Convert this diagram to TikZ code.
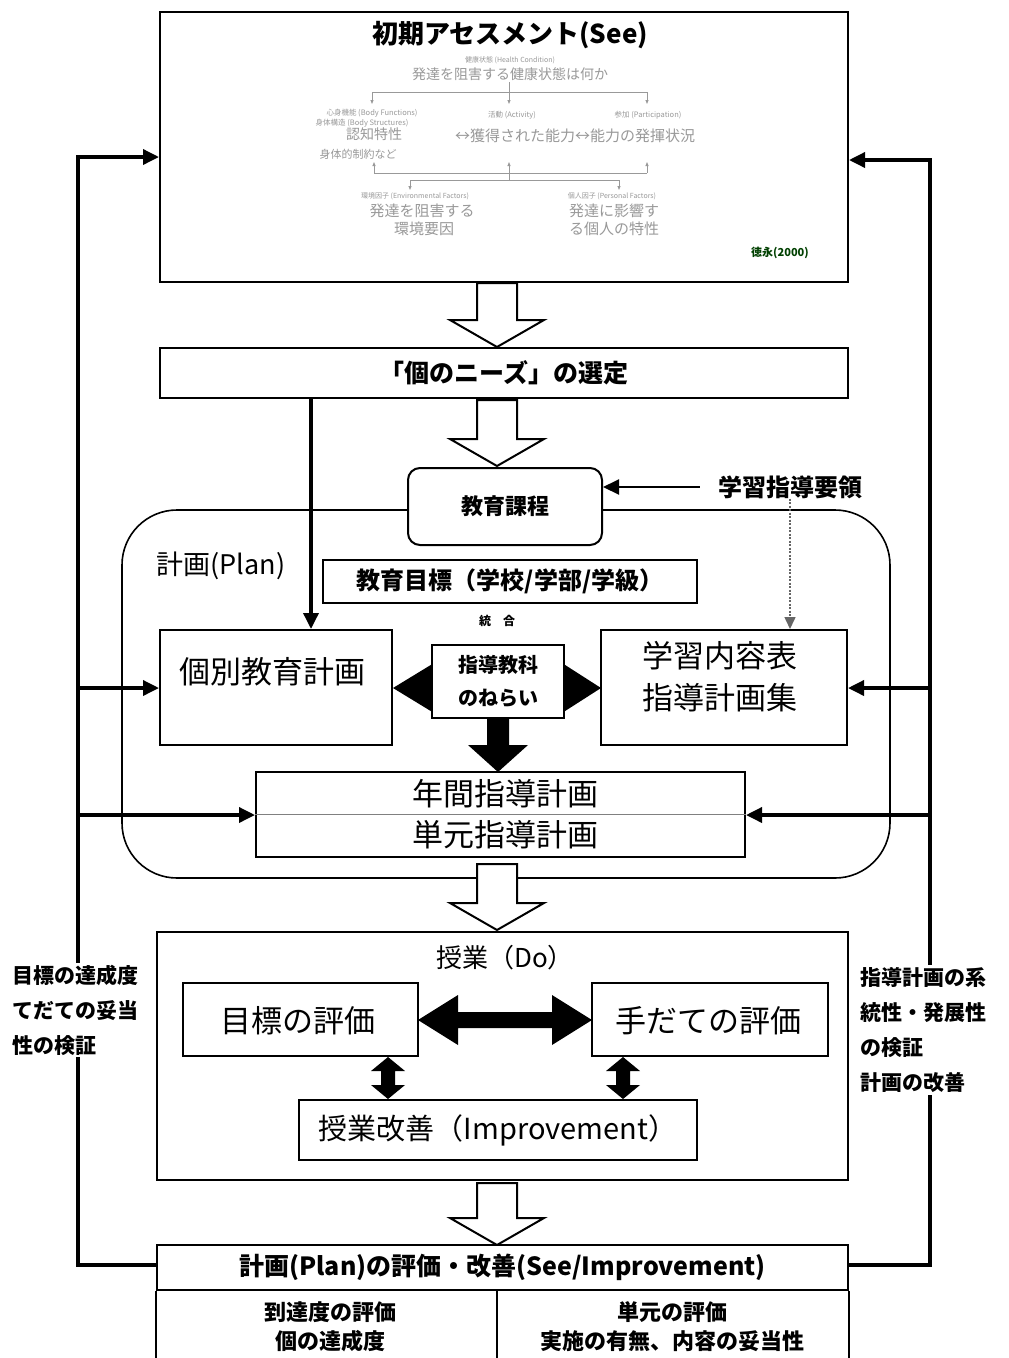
\documentclass[tikz,border=0pt]{standalone}
\usepackage{fontspec}
\setmainfont{Noto Sans CJK JP}
\usetikzlibrary{arrows.meta,calc}
\newcommand\hollowdown[3]{\draw[hollow] ({#1-20},#2) -- ({#1+20},#2) -- ({#1+20},{#3-27}) -- ({#1+47},{#3-27}) -- (#1,#3) -- ({#1-47},{#3-27}) -- ({#1-20},{#3-27}) -- cycle;}
\newcommand\vdbl[1]{\fill ({#1},1057) -- ({#1+17},1071) -- ({#1+7},1071) -- ({#1+7},1085) -- ({#1+17},1085) -- ({#1},1099) -- ({#1-17},1085) -- ({#1-7},1085) -- ({#1-7},1071) -- ({#1-17},1071) -- cycle;}
\begin{document}
\begin{tikzpicture}[x=1pt,y=-1pt,
  box/.style={draw,line width=2pt,fill=white,inner sep=0pt,align=center},
  conn/.style={line width=3.5pt,-{Triangle[length=16pt,width=15pt]}},
  hollow/.style={draw,line width=2pt,fill=white,line join=miter},
  fig/.style={text=gray!80,inner sep=0pt},
  figline/.style={draw=gray!80,line width=0.8pt},
  figarr/.style={draw=gray!80,line width=0.8pt,-{Triangle[length=4pt,width=3pt]}},
  big/.style={inner sep=0pt,font=\fontsize{31}{38}\selectfont},
  mid/.style={inner sep=0pt,font=\fontsize{24}{30}\selectfont\bfseries},
  side/.style={inner sep=2pt,fill=white,align=left,font=\fontsize{21}{35}\selectfont\bfseries}]
\useasboundingbox[fill=white] (0,0) rectangle (1009,1358);

% ---------- plan region ----------
\draw[line width=1.6pt,rounded corners=55pt] (122,510) rectangle (890,878);

% ---------- top assessment box ----------
\node[box,minimum width=688pt,minimum height=270pt] (see) at (504,147) {};
\node[inner sep=0pt,font=\fontsize{26}{30}\selectfont\bfseries] (seeT) at (510,35) {初期アセスメント(See)};
\node[fig,font=\fontsize{7}{8}\selectfont] (f1) at (510,60) {健康状態 (Health Condition)};
\node[fig,font=\fontsize{14}{16}\selectfont] (f2) at (510,74) {発達を阻害する健康状態は何か};
\draw[figline] (509,82) -- (509,92);
\draw[figline] (372,92) -- (647,92);
\draw[figarr] (372,92) -- (372,104);
\draw[figarr] (509,92) -- (509,104);
\draw[figarr] (647,92) -- (647,104);
\node[fig,font=\fontsize{7.5}{9}\selectfont] (f3) at (372,113) {心身機能 (Body Functions)};
\node[fig,font=\fontsize{7.5}{9}\selectfont] (f4) at (362,123) {身体構造 (Body Structures)};
\node[fig,font=\fontsize{7.5}{9}\selectfont] (f5) at (512,115) {活動 (Activity)};
\node[fig,font=\fontsize{7.5}{9}\selectfont] (f6) at (648,115) {参加 (Participation)};
\node[fig,font=\fontsize{14}{16}\selectfont] (f7) at (374,134) {認知特性};
\node[fig,font=\fontsize{15}{17}\selectfont] (f8) at (575,136) {↔獲得された能力↔能力の発揮状況};
\node[fig,font=\fontsize{11}{13}\selectfont] (f9) at (358,154) {身体的制約など};
\draw[figarr] (374,173) -- (374,162);
\draw[figarr] (509,173) -- (509,162);
\draw[figarr] (647,173) -- (647,162);
\draw[figline] (374,173) -- (647,173);
\draw[figline] (509,173) -- (509,180);
\draw[figline] (410,180) -- (619,180);
\draw[figarr] (410,180) -- (410,190);
\draw[figarr] (619,180) -- (619,190);
\node[fig,font=\fontsize{7}{8}\selectfont] (f10) at (415,196) {環境因子 (Environmental Factors)};
\node[fig,font=\fontsize{7}{8}\selectfont] (f11) at (612,196) {個人因子 (Personal Factors)};
\node[fig,font=\fontsize{15}{17}\selectfont] (f12) at (422,211) {発達を阻害する};
\node[fig,font=\fontsize{15}{17}\selectfont] (f13) at (424,229) {環境要因};
\node[fig,font=\fontsize{15}{17}\selectfont] (f14) at (614,211) {発達に影響す};
\node[fig,font=\fontsize{15}{17}\selectfont] (f15) at (614,229) {る個人の特性};
\node[inner sep=0pt,text=black!75!green,font=\fontsize{11}{13}\selectfont\bfseries] (fsrc) at (780,253) {徳永(2000)};

% ---------- needs ----------
\node[box,minimum width=688pt,minimum height=50pt,font=\fontsize{25}{30}\selectfont\bfseries] (needs) at (504,373) {「個のニーズ」の選定};
\hollowdown{497}{283}{347}
\hollowdown{497}{400}{466}

% ---------- curriculum ----------
\node[box,rounded corners=12pt,minimum width=194pt,minimum height=77pt,font=\fontsize{22}{28}\selectfont\bfseries] (kyoiku) at (505,506.5) {教育課程};
\node[mid] (yoryo) at (790,487) {学習指導要領};
\draw[conn,line width=2pt] (yoryo.west) ++(-18,0) -- (kyoiku.east |- yoryo.west);
\node[inner sep=0pt,font=\fontsize{27}{32}\selectfont] (planT) at (221,566) {計画(Plan)};
\node[box,line width=2.2pt,minimum width=374pt,minimum height=43pt,font=\fontsize{24}{28}\selectfont\bfseries] (mokuhyo) at (510,581.5) {教育目標（学校/学部/学級）};
\node[inner sep=0pt,font=\fontsize{12}{14}\selectfont\bfseries] (togo) at (497,621) {統　合};

% ---------- plan boxes ----------
\node[box,minimum width=232pt,minimum height=115pt] (kobetsu) at (276,687.5) {};
\node[big] (kobetsuT) at (272,672) {個別教育計画};
\node[box,minimum width=246pt,minimum height=115pt] (gakushu) at (724,687.5) {};
\node[big,align=left,font=\fontsize{31}{42}\selectfont] (gakushuT) at (720,677) {学習内容表\\指導計画集};
\draw[gray!80!black,line width=1.5pt,dash pattern=on 2pt off 1.5pt,-{Triangle[length=12pt,width=11pt]}] (yoryo.south) -- (yoryo.south |- gakushu.north);
\draw[conn] ($(needs.south west)+(152,0)$) -- ($(kobetsu.north west)+(152,0)$);

% black block arrows around the aims box
\fill (393,688) -- (434,663) -- (434,713) -- cycle;
\fill (601,688) -- (562,663) -- (562,713) -- cycle;
\fill (487,716) -- (509,716) -- (509,745) -- (528,745) -- (498,772) -- (468,745) -- (487,745) -- cycle;
\node[box,minimum width=132pt,minimum height=73pt,font=\fontsize{20}{33}\selectfont\bfseries] (nerai) at (498,681.5) {指導教科\\のねらい};

\node[box,minimum width=489pt,minimum height=85pt] (nenkan) at (500.5,814.5) {};
\draw[gray,line width=1pt] (nenkan.west) -- (nenkan.east);
\node[big] (nenkanT) at (505,794) {年間指導計画};
\node[big] (tangenT) at (505,835) {単元指導計画};
\hollowdown{497}{864}{930}

% ---------- Do ----------
\node[box,minimum width=691pt,minimum height=248pt] (do) at (502.5,1056) {};
\node[inner sep=0pt,font=\fontsize{26}{32}\selectfont] (doT) at (505,958) {授業（Do）};
\node[box,minimum width=235pt,minimum height=73pt] (mk) at (300.5,1019.5) {};
\node[big] (mkT) at (298,1021) {目標の評価};
\node[box,minimum width=236pt,minimum height=73pt] (td) at (710,1019.5) {};
\node[big] (tdT) at (708,1021) {手だての評価};
\fill (418,1020) -- (458,995) -- (458,1012) -- (552,1012) -- (552,995) -- (592,1020) -- (552,1045) -- (552,1028) -- (458,1028) -- (458,1045) -- cycle;
\vdbl{388}
\vdbl{623}
\node[box,minimum width=398pt,minimum height=60pt,font=\fontsize{29}{34}\selectfont] (kaizen) at (498,1130) {授業改善（Improvement）};
\hollowdown{497}{1183}{1245}

% ---------- evaluation of plan ----------
\node[box,minimum width=691pt,minimum height=45pt,font=\fontsize{25}{28}\selectfont\bfseries] (peval) at (502.5,1267.5) {計画(Plan)の評価・改善(See/Improvement)};
\draw[line width=2pt] (peval.south west) -- ++(0,75);
\draw[line width=2pt] (peval.south east) -- ++(0,75);
\coordinate (pmid) at (497,1290);
\draw[line width=2pt] (pmid) -- ++(0,75);
\node[inner sep=0pt,align=center,font=\fontsize{22}{29}\selectfont\bfseries] (c1) at (330,1327) {到達度の評価\\個の達成度};
\node[inner sep=0pt,align=center,font=\fontsize{22}{29}\selectfont\bfseries] (c2) at (672,1327) {単元の評価\\実施の有無、内容の妥当性};

% ---------- feedback loops ----------
\coordinate (Ltop) at (78,157);
\coordinate (Lbot) at (78,1265);
\coordinate (L2) at (78,688);
\coordinate (L3) at (78,815);
\coordinate (Rtop) at (930,160);
\coordinate (Rbot) at (930,1265);
\coordinate (R2) at (930,688);
\coordinate (R3) at (930,815);
\draw[conn] (peval.west |- Lbot) -- (Lbot) -- (Ltop) -- (Ltop -| see.west);
\draw[conn] (L2) -- (L2 -| kobetsu.west);
\draw[conn] (L3) -- (L3 -| nenkan.west);
\draw[conn] (peval.east |- Rbot) -- (Rbot) -- (Rtop) -- (Rtop -| see.east);
\draw[conn] (R2) -- (R2 -| gakushu.east);
\draw[conn] (R3) -- (R3 -| nenkan.east);
\node[side,anchor=west] (lbl) at (10,1010) {目標の達成度\\てだての妥当\\性の検証};
\node[side,anchor=west] (rbl) at (858,1030) {指導計画の系\\統性・発展性\\の検証\\計画の改善};
\end{tikzpicture}
\end{document}
